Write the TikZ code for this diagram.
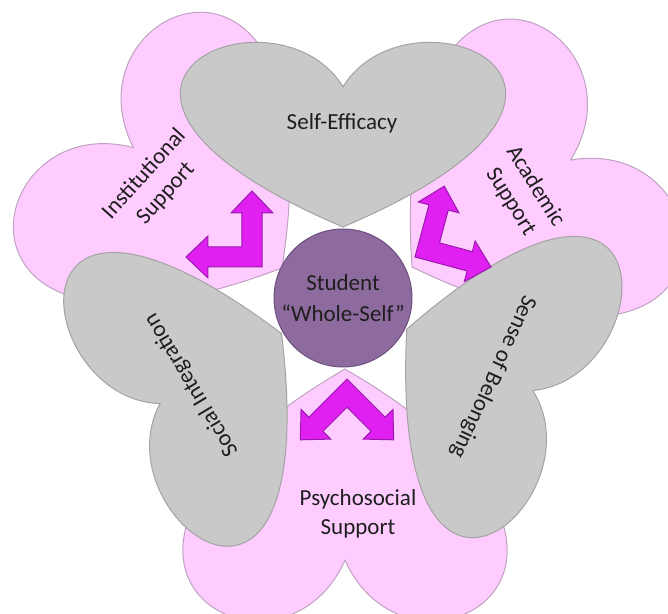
\documentclass[tikz,border=0pt]{standalone}
\usepackage{fontspec}
\setmainfont{Carlito}

\definecolor{heartpink}{HTML}{FFCCFF}
\definecolor{pinkline}{HTML}{BFA2C2}
\definecolor{heartgray}{HTML}{C9C9C9}
\definecolor{grayline}{HTML}{A3A3A3}
\definecolor{selfpurple}{HTML}{8E6B9F}
\definecolor{selfline}{HTML}{6E4F7E}
\definecolor{arrowfill}{HTML}{E020F0}
\definecolor{arrowline}{HTML}{9A1AAE}
\definecolor{textdark}{HTML}{1E1E1E}

% heart with its tip at the origin, lobes pointing up: #1 width, #2 height
\newcommand{\heart}[2]{(0,0.75*#2) .. controls (10/48*#1,4/3*#2) and (49/48*#1,0.75*#2) .. (0,0)
  .. controls (-49/48*#1,0.75*#2) and (-10/48*#1,4/3*#2) .. (0,0.75*#2) -- cycle}
% L-shaped double arrow, outer corner at the origin
\newcommand{\lturn}{(0,0) -- (0,54) -- (11,54) -- (-10,76) -- (-31,54) -- (-20,54) -- (-20,20)
  -- (-54,20) -- (-54,31) -- (-76,10) -- (-54,-11) -- (-54,0) -- cycle}

\begin{document}
\begin{tikzpicture}[x=0.5pt,y=0.5pt,
    pinkheart/.style={fill=heartpink,draw=pinkline,line width=0.5pt},
    grayheart/.style={fill=heartgray,draw=grayline,line width=0.5pt},
    bentarrow/.style={fill=arrowfill,draw=arrowline,line width=0.5pt},
    heartlabel/.style={font=\fontsize{11.5}{14.5}\selectfont,text=textdark,align=center,inner sep=0pt}]
  \useasboundingbox (-343,-316) rectangle (325,298);

  % support hearts
  \draw[pinkheart,shift={(-61,30)},rotate=51] \heart{322}{255};
  \draw[pinkheart,shift={(69,31)},rotate=-56] \heart{322}{255};
  \draw[pinkheart,shift={(2,-71)},rotate=180] \heart{322}{255};

  % outcome hearts
  \draw[grayheart,shift={(0,71)}] \heart{323}{187};
  \draw[grayheart,shift={(-61.5,-35.5)},rotate=120] \heart{323}{187};
  \draw[grayheart,shift={(63.8,-31.1)},rotate=-116] \heart{323}{187};

  % arrows
  \draw[bentarrow,shift={(-81,31)}] \lturn;
  \draw[bentarrow,shift={(72,41)},rotate=-105] \lturn;
  \draw[bentarrow,shift={(4,-81)},rotate=135] \lturn;

  \node[circle,fill=selfpurple,draw=selfline,line width=0.5pt,minimum size=69pt,
    heartlabel] (student) at (0,0) {Student\\[1pt]“Whole-Self”};

  \node[heartlabel] (selfeff) at (-1,175) {Self-Efficacy};
  \node[heartlabel,rotate=121] (socint) at (-151.5,-87) {Social Integration};
  \node[heartlabel,rotate=-114.5] (belong) at (150,-79) {Sense of Belonging};
  \node[heartlabel,rotate=48] (instsup) at (-188,114) {Institutional\\Support};
  \node[heartlabel,rotate=-58] (acadsup) at (180,104) {Academic\\Support};
  \node[heartlabel] (psysup) at (15,-216) {Psychosocial\\Support};
\end{tikzpicture}
\end{document}
